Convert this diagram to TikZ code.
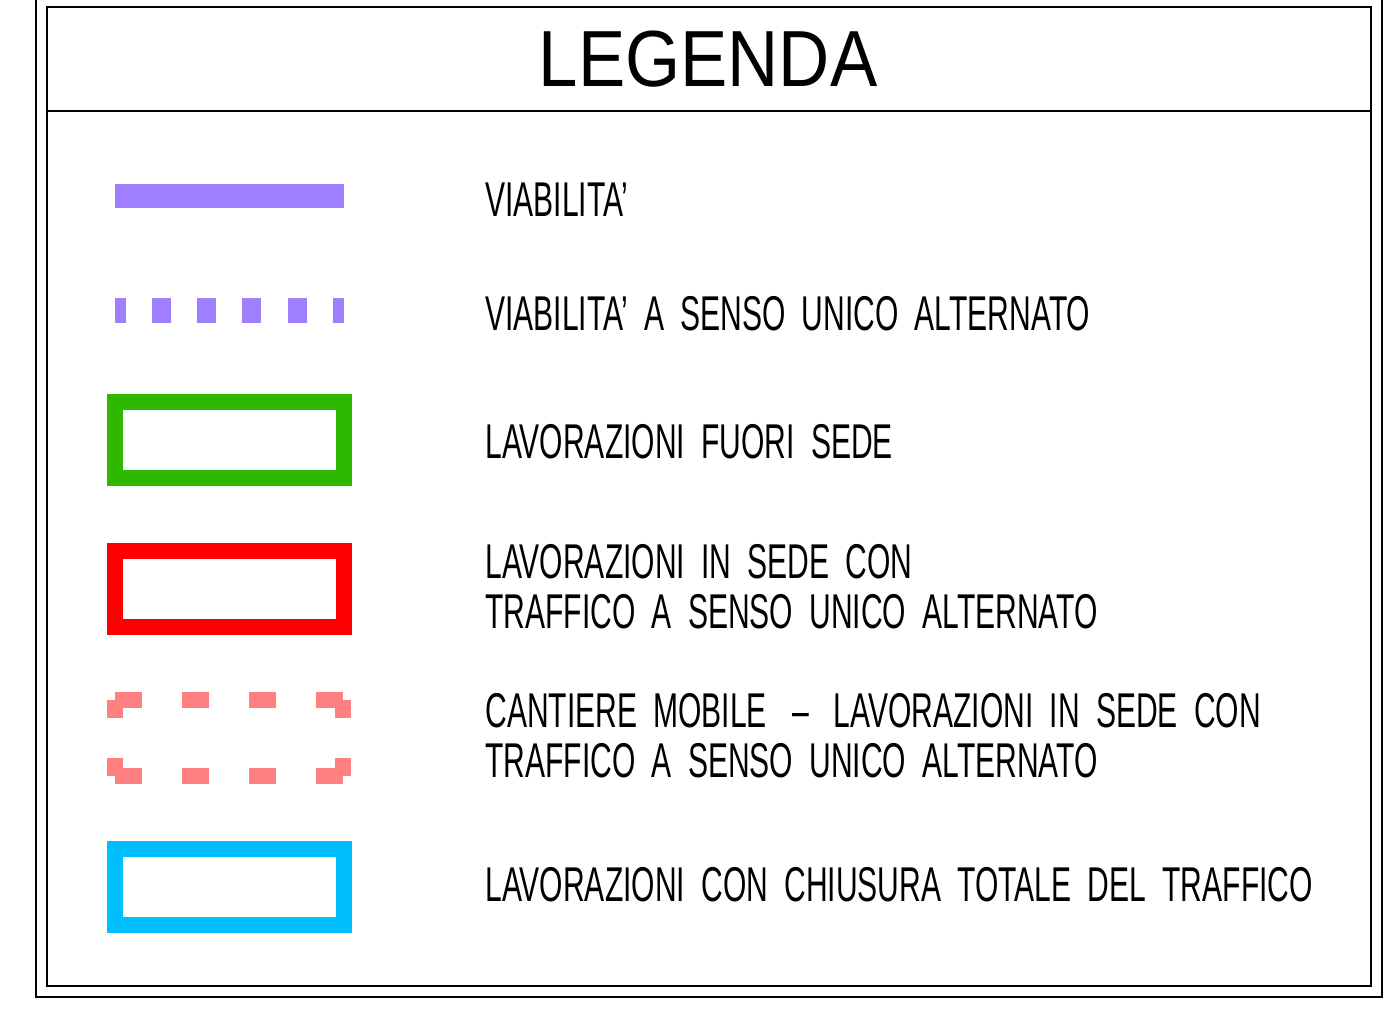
\documentclass[tikz,border=0pt]{standalone}
\usepackage{fontspec}
\usepackage{tikz}
\newfontfamily\titlefont[FakeStretch=0.89]{Liberation Sans}
\newfontfamily\legfont[FakeStretch=0.615,WordSpace=1.95]{Liberation Sans}
\newlength\pxl
\setlength\pxl{0.02cm}
\definecolor{viola}{RGB}{160,128,255}
\definecolor{verde}{RGB}{46,184,0}
\definecolor{rosa}{RGB}{255,128,128}
\definecolor{celeste}{RGB}{0,191,255}

\begin{document}
\begin{tikzpicture}[x=0.02cm,y=-0.02cm,
	txt/.style={anchor=base west,inner sep=0pt,font=\legfont\fontsize{27.8pt}{28.5pt}\selectfont},
	frame/.style={line width=1.6\pxl},
	symbox/.style={line width=16\pxl}]
	\useasboundingbox (0,0) rectangle (1394,1019);
	\draw [line width=2.5\pxl] (36,-5) -- (36,997) -- (1382,997) -- (1382,-5);
	\draw [frame] (47,7) rectangle (1371,986);
	\draw [frame] (47,111) -- (1371,111);
	\node [anchor=base,inner sep=0pt,font=\titlefont\fontsize{45.3pt}{46pt}\selectfont] (title) at (708,86) {LEGENDA};
	% simboli
	\draw [viola,line width=24\pxl] (115,196) -- (344,196);
	\draw [viola,line width=25\pxl,dash pattern=on 19\pxl off 26.3\pxl,dash phase=8.5\pxl] (115,310.5) -- (344,310.5);
	\draw [verde,symbox] (115,402) rectangle (343.5,478);
	\draw [red,symbox] (115,551) rectangle (343.5,627);
	\draw [rosa,symbox,dash pattern=on 27\pxl off 40.1\pxl] (115,700) -- (343.3,700);
	\draw [rosa,symbox,dash pattern=on 18\pxl off 40\pxl] (343.3,700) -- (343.3,776);
	\draw [rosa,symbox,dash pattern=on 27\pxl off 40.1\pxl] (343.3,776) -- (115,776);
	\draw [rosa,symbox,dash pattern=on 18\pxl off 40\pxl] (115,776) -- (115,700);
	\draw [celeste,symbox] (115,849) rectangle (343.5,925);
	% testi
	\node [txt] (t1) at (485,216) {VIABILITA’};
	\node [txt] (t2) at (485,330) {VIABILITA’ A SENSO UNICO ALTERNATO};
	\node [txt] (t3) at (485,458) {LAVORAZIONI FUORI SEDE};
	\node [txt] (t4a) at (485,578) {LAVORAZIONI IN SEDE CON};
	\node [txt] (t4b) at (485,628) {TRAFFICO A SENSO UNICO ALTERNATO};
	\node [txt] (t5a) at (485,727) {CANTIERE MOBILE \kern5pt–\kern5pt\ LAVORAZIONI IN SEDE CON};
	\node [txt] (t5b) at (485,777) {TRAFFICO A SENSO UNICO ALTERNATO};
	\node [txt] (t6) at (485,901) {LAVORAZIONI CON CHIUSURA TOTALE DEL TRAFFICO};
\end{tikzpicture}
\end{document}
